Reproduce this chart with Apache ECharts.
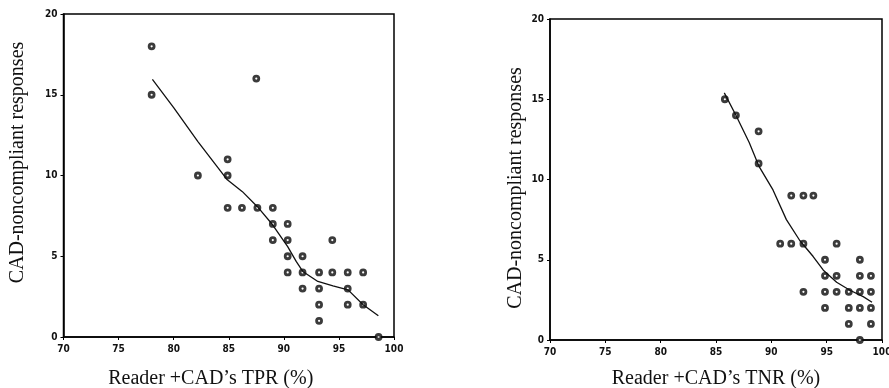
<!DOCTYPE html>
<html><head><meta charset="utf-8">
<script src="https://cdn.jsdelivr.net/npm/echarts@6/dist/echarts.min.js"></script>
<style>html,body{margin:0;padding:0;background:#fff}#c{width:889px;height:388px}</style>
</head><body><div id="c"></div>
<script>
// Left panel: TPR
const tprPoints = [
  [78,18],[78,15],[87.5,16],[82.2,10],[84.9,11],[84.9,10],[84.9,8],[86.2,8],[87.6,8],
  [89,8],[89,7],[89,6],[90.35,7],[90.35,6],[90.35,5],[90.35,4],[91.7,5],[91.7,4],[91.7,3],
  [93.2,4],[93.2,3],[93.2,2],[93.2,1],[94.4,6],[94.4,4],[95.8,4],[95.8,3],[95.8,2],
  [97.2,4],[97.2,2],[98.6,0]
];
const tprTrend = [
  [78.07,15.95],[80,14.2],[82.2,12.1],[84.87,9.73],[86.24,9.0],[87.6,8.07],[88.98,6.95],
  [90.35,5.6],[91.12,4.68],[91.72,4.06],[93.09,3.44],[94.46,3.17],[95.83,2.92],[97.2,2.0],[98.58,1.32]
];
// Right panel: TNR
const tnrPoints = [
  [85.8,15],[86.8,14],[88.85,13],[88.85,11],[90.8,6],[91.8,6],[91.8,9],[92.9,9],[93.8,9],
  [92.9,6],[92.9,3],[94.85,5],[94.85,4],[94.85,3],[94.85,2],[95.9,6],[95.9,4],[95.9,3],
  [97,3],[97,2],[97,1],[98,5],[98,4],[98,3],[98,2],[98,0],[99,4],[99,3],[99,2],[99,1]
];
const tnrTrend = [
  [85.75,15.4],[86.8,14.0],[88.0,12.3],[88.9,10.8],[90.15,9.35],[91.36,7.5],[92.57,6.2],
  [93.78,5.2],[94.7,4.35],[95.9,3.6],[97.1,3.1],[98.3,2.7],[99.1,2.35]
];
const xTicks = [70,75,80,85,90,95,100];
const yTicks = [0,5,10,15,20];
const yName = 'CAD-noncompliant responses';
const xNameL = 'Reader +CAD\u2019s TPR (%)';
const xNameR = 'Reader +CAD\u2019s TNR (%)';

const tickFont = {fontFamily:'"Liberation Sans Narrow","DejaVu Sans Condensed",Arial', fontWeight:'bold', fontSize:10, color:'#111'};
const nameFont = {fontFamily:'"Liberation Serif","Times New Roman",serif', fontSize:20, color:'#111'};

function xAxis(idx, name, gap, pad){
  return {gridIndex:idx, type:'value', min:xTicks[0], max:xTicks[xTicks.length-1], interval:5,
    name:name, nameLocation:'middle', nameGap:gap, nameTextStyle:Object.assign({padding:pad}, nameFont),
    axisLine:{show:true, onZero:false, lineStyle:{color:'#000', width:1.5}},
    axisTick:{show:true, length:3, lineStyle:{color:'#000'}},
    axisLabel:Object.assign({margin:7}, tickFont), splitLine:{show:false}};
}
function yAxis(idx, gap, pad){
  return {gridIndex:idx, type:'value', min:yTicks[0], max:yTicks[yTicks.length-1], interval:5,
    name:yName, nameLocation:'middle', nameGap:gap, nameTextStyle:Object.assign({padding:pad}, nameFont),
    axisLine:{show:true, onZero:false, lineStyle:{color:'#000', width:1.5}},
    axisTick:{show:true, length:3, lineStyle:{color:'#000'}},
    axisLabel:Object.assign({margin:6}, tickFont), splitLine:{show:false}};
}
const marker = {color:'#fff', borderColor:'#0a0a0a', borderWidth:2.8};

const chart = echarts.init(document.getElementById('c'), null, {renderer:'canvas'});
chart.setOption({
  animation:false,
  grid:[
    {left:63.5, top:14, right:495, bottom:51, show:true, borderColor:'#000', borderWidth:1.5, backgroundColor:'transparent', containLabel:false, outerBoundsMode:'none'},
    {left:550, top:19, right:7, bottom:48, show:true, borderColor:'#000', borderWidth:1.5, backgroundColor:'transparent', containLabel:false, outerBoundsMode:'none'}
  ],
  xAxis:[ xAxis(0, xNameL, 32, [0,36,0,0]), xAxis(1, xNameR, 29, [0,0,0,0]) ],
  yAxis:[ yAxis(0, 36, [0,0,0,26]), yAxis(1, 24, [0,17,0,0]) ],
  series:[
    {type:'scatter', xAxisIndex:0, yAxisIndex:0, data:tprPoints, symbol:'circle', symbolSize:5, itemStyle:marker},
    {type:'line', xAxisIndex:0, yAxisIndex:0, data:tprTrend, showSymbol:false, symbol:'none', lineStyle:{color:'#111', width:1.3}},
    {type:'scatter', xAxisIndex:1, yAxisIndex:1, data:tnrPoints, symbol:'circle', symbolSize:5, itemStyle:marker},
    {type:'line', xAxisIndex:1, yAxisIndex:1, data:tnrTrend, showSymbol:false, symbol:'none', lineStyle:{color:'#111', width:1.3}}
  ]
});
</script></body></html>
